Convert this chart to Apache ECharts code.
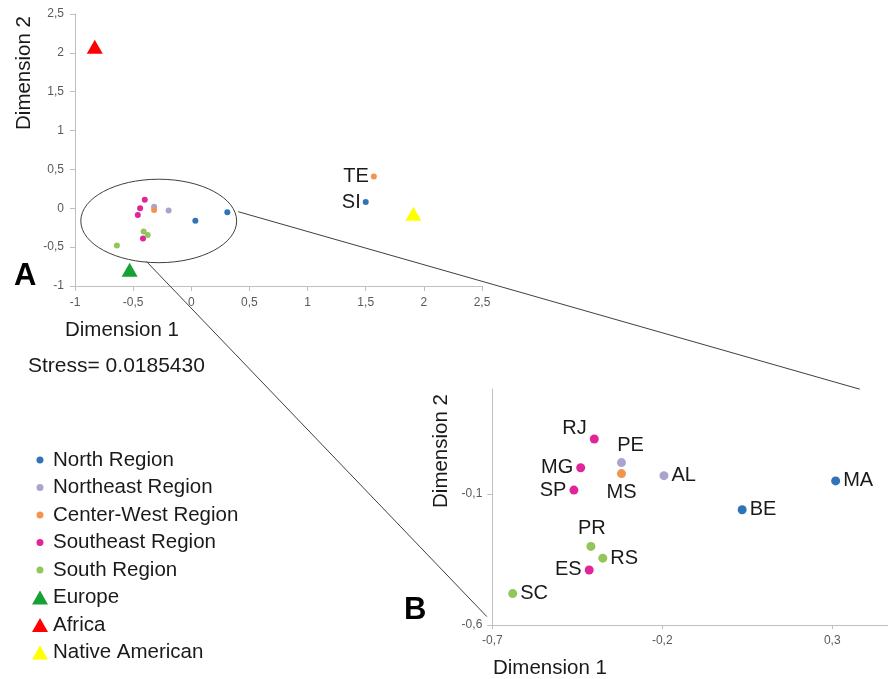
<!DOCTYPE html>
<html>
<head>
<meta charset="utf-8">
<script src="https://cdn.jsdelivr.net/npm/echarts@6/dist/echarts.min.js"></script>
<style>html,body{margin:0;padding:0;background:#fff;}#c{width:888px;height:679px;}</style>
</head>
<body>
<div id="c"></div>
<script>
// ---- data (label, dimension 1, dimension 2) ----
const northRegion     = [['MA', 0.31, -0.05], ['BE', 0.035, -0.16], ['SI', 1.50, 0.08]];
const northeastRegion = [['PE', -0.32, 0.02], ['AL', -0.195, -0.03]];
const centerWestRegion= [['MS', -0.32, -0.022], ['TE', 1.57, 0.41]];
const southeastRegion = [['RJ', -0.40, 0.11], ['MG', -0.44, 0.0], ['SP', -0.46, -0.085], ['ES', -0.415, -0.39]];
const southRegion     = [['PR', -0.41, -0.30], ['RS', -0.375, -0.345], ['SC', -0.64, -0.48]];
const europe          = [['Europe', -0.53, -0.79]];
const africa          = [['Africa', -0.83, 2.08]];
const nativeAmerican  = [['Native American', 1.91, -0.07]];

const seriesNames = ['North Region', 'Northeast Region', 'Center-West Region', 'Southeast Region',
                     'South Region', 'Europe', 'Africa', 'Native American'];
const stressText = 'Stress= 0.0185430';

// axis ranges / ticks
const aTicks = { min: -1, max: 2.5, interval: 0.5 };
const bTicksX = [-0.7, -0.2, 0.3];
const bTicksY = [-0.6, -0.1];
const bRangeX = [-0.7, 0.464];
const bRangeY = [-0.6, 0.3];

// ---- styles ----
const FONT = '"Liberation Sans", Arial, sans-serif';
const colors = ['#2f74b8', '#aaa4cc', '#f2944e', '#e0259a', '#92c65a', '#17a034', '#ff0000', '#ffff00'];
const isRef = [false, false, false, false, false, true, true, true];
const groups = [northRegion, northeastRegion, centerWestRegion, southeastRegion, southRegion, europe, africa, nativeAmerican];
const labelsA = { TE: 'left', SI: 'left' };
const labelsB = {
  RJ: { position: 'left', offset: [0, -10] },
  PE: { position: 'top', offset: [9, 0] },
  MG: { position: 'left' },
  SP: { position: 'left' },
  MS: { position: 'bottom', offset: [0, 1] },
  AL: { position: 'right' },
  MA: { position: 'right' },
  BE: { position: 'right' },
  PR: { position: 'top', offset: [1, 0] },
  RS: { position: 'right' },
  ES: { position: 'left' },
  SC: { position: 'right' }
};

const fmt = v => String(Math.round(v * 100) / 100).replace('.', ',');
const axisLineStyle = { color: '#bfbfbf', width: 1 };
const tickLabel = { color: '#595959', fontSize: 12, fontFamily: FONT, formatter: fmt };

function inB(p) { return p[1] >= bRangeX[0] && p[1] <= bRangeX[1] && p[2] >= bRangeY[0] && p[2] <= bRangeY[1]; }

const series = [];
groups.forEach((g, i) => {
  series.push({
    type: 'scatter', name: seriesNames[i], xAxisIndex: 0, yAxisIndex: 0,
    symbol: isRef[i] ? 'triangle' : 'circle',
    symbolSize: isRef[i] ? [16, 14] : 6,
    itemStyle: { color: colors[i], opacity: 1 },
    data: g.map(p => {
      const d = { name: p[0], value: [p[1], p[2]] };
      if (!isRef[i] && labelsA[p[0]]) {
        d.label = { show: true, position: labelsA[p[0]], distance: 2, formatter: '{b}',
                    fontSize: 20, color: '#1a1a1a', fontFamily: FONT };
      }
      return d;
    }),
    z: 5
  });
  if (!isRef[i]) {
    series.push({
      type: 'scatter', name: seriesNames[i], xAxisIndex: 1, yAxisIndex: 1,
      symbol: 'circle', symbolSize: 9,
      itemStyle: { color: colors[i], opacity: 1 },
      data: g.filter(inB).map(p => {
        const lb = labelsB[p[0]] || { position: 'right' };
        return { name: p[0], value: [p[1], p[2]],
          label: Object.assign({ show: true, distance: 3, formatter: '{b}', fontSize: 20,
                   color: '#1a1a1a', fontFamily: FONT }, lb) };
      }),
      z: 5
    });
  }
});

const smallCircle = 'path://M0,0M16,14M8,3.5A3.5,3.5,0,1,1,7.99,3.5Z';

const chart = echarts.init(document.getElementById('c'), null, { renderer: 'canvas' });
const option = {
  animation: false,
  backgroundColor: '#ffffff',
  grid: [
    { left: 75, top: 14, width: 407, height: 272 },
    { left: 492.3, top: 389.2, width: 395.7, height: 235.8 }
  ],
  xAxis: [
    { gridIndex: 0, type: 'value', min: aTicks.min, max: aTicks.max, interval: aTicks.interval,
      axisLine: { show: true, onZero: false, lineStyle: axisLineStyle },
      axisTick: { show: true, length: 5, lineStyle: axisLineStyle },
      axisLabel: Object.assign({ margin: 11 }, tickLabel), splitLine: { show: false } },
    { gridIndex: 1, type: 'value', min: bRangeX[0], max: bRangeX[1],
      axisLine: { show: true, onZero: false, lineStyle: axisLineStyle },
      axisTick: { show: true, length: 4, lineStyle: axisLineStyle, customValues: bTicksX },
      axisLabel: Object.assign({ margin: 10, customValues: bTicksX }, tickLabel), splitLine: { show: false } }
  ],
  yAxis: [
    { gridIndex: 0, type: 'value', min: aTicks.min, max: aTicks.max, interval: aTicks.interval,
      axisLine: { show: true, onZero: false, lineStyle: axisLineStyle },
      axisTick: { show: true, length: 5, lineStyle: axisLineStyle },
      axisLabel: Object.assign({ margin: 11 }, tickLabel), splitLine: { show: false } },
    { gridIndex: 1, type: 'value', min: bRangeY[0], max: bRangeY[1],
      axisLine: { show: true, onZero: false, lineStyle: axisLineStyle },
      axisTick: { show: true, length: 5, lineStyle: axisLineStyle, customValues: bTicksY },
      axisLabel: Object.assign({ margin: 10, customValues: bTicksY }, tickLabel), splitLine: { show: false } }
  ],
  legend: {
    orient: 'vertical', left: 27, top: 444.5, itemWidth: 16, itemHeight: 14, itemGap: 6.5,
    textStyle: { fontSize: 20.5, lineHeight: 20, color: '#1a1a1a', fontFamily: FONT },
    selectedMode: false,
    data: seriesNames.map((n, i) => ({ name: n, icon: isRef[i] ? 'triangle' : smallCircle }))
  },
  series: series
};
chart.setOption(option);

// ---- annotations: zoom ellipse + connector lines, texts ----
const pA = v => chart.convertToPixel({ gridIndex: 0 }, v);
const pB = v => chart.convertToPixel({ gridIndex: 1 }, v);
const ec = pA([-0.28, -0.163]);
const ex = pA([-0.28 + 0.67, -0.163]);
const ey = pA([-0.28, -0.163 + 0.537]);
const l1a = pA([0.404, -0.044]), l1b = pB([0.381, 0.3]);
const l2a = pA([-0.384, -0.687]), l2b = pB([-0.716, -0.568]);
const lineStyle = { stroke: '#3f3f3f', lineWidth: 1, fill: null };
const txt = (x, y, text, size, extra) => Object.assign({
  type: 'text', x: x, y: y, z: 10,
  style: { text: text, fontSize: size, fontFamily: FONT, fill: '#1a1a1a', align: 'left', verticalAlign: 'middle' }
}, extra || {});

chart.setOption({
  graphic: [
    { type: 'ellipse', shape: { cx: ec[0], cy: ec[1], rx: ex[0] - ec[0], ry: ec[1] - ey[1] }, style: lineStyle, z: 1 },
    { type: 'line', shape: { x1: l1a[0], y1: l1a[1], x2: l1b[0], y2: l1b[1] }, style: lineStyle, z: 1 },
    { type: 'line', shape: { x1: l2a[0], y1: l2a[1], x2: l2b[0], y2: l2b[1] }, style: lineStyle, z: 1 },
    txt(65, 330, 'Dimension 1', 20.5),
    txt(493, 668, 'Dimension 1', 20.5),
    { type: 'text', x: 24, y: 73, rotation: Math.PI / 2, z: 10,
      style: { text: 'Dimension 2', fontSize: 20.5, fontFamily: FONT, fill: '#1a1a1a', align: 'center', verticalAlign: 'middle' } },
    { type: 'text', x: 441, y: 451, rotation: Math.PI / 2, z: 10,
      style: { text: 'Dimension 2', fontSize: 20.5, fontFamily: FONT, fill: '#1a1a1a', align: 'center', verticalAlign: 'middle' } },
    txt(28, 366, stressText, 21),
    txt(14, 276, 'A', 31, { style: { text: 'A', fontSize: 31, fontWeight: 'bold', fontFamily: FONT, fill: '#000', align: 'left', verticalAlign: 'middle' } }),
    txt(404, 610, 'B', 31, { style: { text: 'B', fontSize: 31, fontWeight: 'bold', fontFamily: FONT, fill: '#000', align: 'left', verticalAlign: 'middle' } })
  ]
});
</script>
</body>
</html>
